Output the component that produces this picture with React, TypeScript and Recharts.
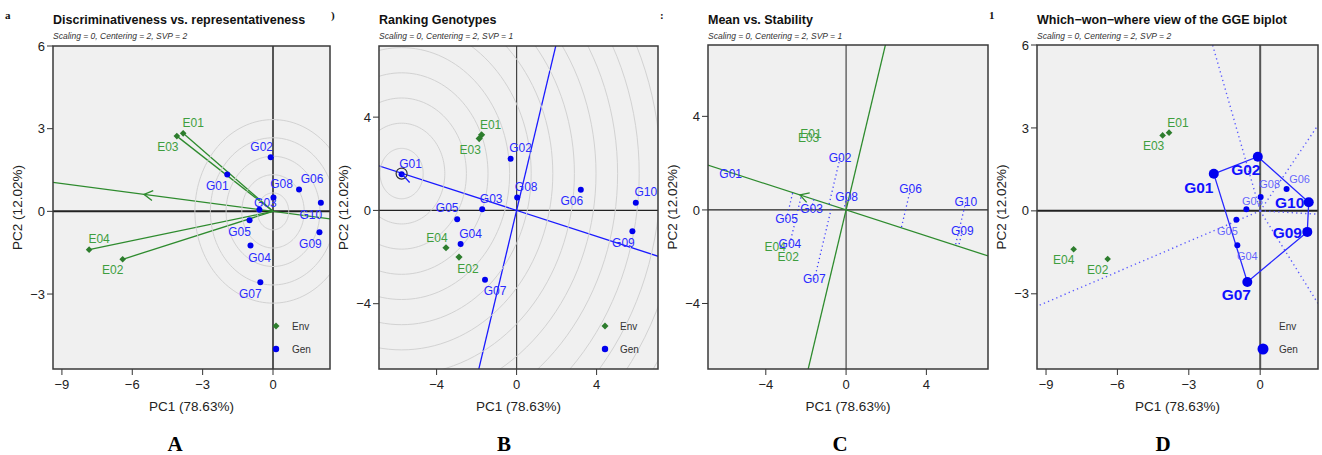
import React from 'react';
import {
  ScatterChart,
  Scatter,
  XAxis,
  YAxis,
  CartesianGrid,
  ReferenceLine,
  Label
} from 'recharts';

// ---- data ----
const genotypes = ['G01', 'G02', 'G03', 'G04', 'G05', 'G06', 'G07', 'G08', 'G09', 'G10'];
const environments = ['E01', 'E02', 'E03', 'E04'];

// SVP = 2 (panels A and D)
const genPc1Svp2 = [-1.95, -0.10, -0.58, -0.96, -1.00, 1.11, -0.54, 0.02, 1.98, 2.04];
const genPc2Svp2 = [1.34, 1.96, 0.06, -1.24, -0.32, 0.79, -2.57, 0.50, -0.76, 0.31];
const envPc1Svp2 = [-3.83, -6.41, -4.10, -7.84];
const envPc2Svp2 = [2.83, -1.74, 2.73, -1.39];

// SVP = 1 (panels B and C)
const genPc1Svp1 = [-5.75, -0.30, -1.72, -2.80, -2.97, 3.21, -1.58, 0.03, 5.79, 5.96];
const genPc2Svp1 = [1.55, 2.22, 0.05, -1.44, -0.38, 0.89, -2.97, 0.55, -0.89, 0.33];
const envPc1Svp1 = [-1.75, -2.88, -1.87, -3.53];
const envPc2Svp1 = [3.24, -2.00, 3.08, -1.60];

// average-environment axes
const aeaSlopeSvp2 = -0.112;
const aeaSlopeSvp1 = -0.278;
const ordinateSlopeSvp1 = 3.6;
const arrowPc1A = -5.5;
const arrowPc1C = -2.3;
const idealPc1 = -5.75;
const idealPc2 = 1.58;

// concentric circles
const ringRadiiA = [0.67, 1.33, 2.0, 2.67, 3.33];
const ringRadiiB = [1.08, 2.16, 3.24, 4.32, 5.4, 6.48, 7.56, 8.64, 9.72, 10.8, 11.88, 12.96, 14.04, 15.12];

// which-won-where polygon and sector rays
const hullOrder = ['G01', 'G02', 'G10', 'G09', 'G07', 'G01'];
const rayEndPc1 = [-2.0, 2.43, 2.43, 2.43, -9.38];
const rayEndPc2 = [6.0, 3.1, -0.12, -3.35, -3.45];

const ticksWide = [-9, -6, -3, 0];
const ticksWideY = [-3, 0, 3, 6];
const ticksNarrow = [-4, 0, 4];

// ---- styling ----
const FONT = '"Liberation Sans", Arial, Helvetica, sans-serif';
const BLUE_DOT = '#0000ee';
const BLUE_TXT = '#2a2aff';
const GREEN_DOT = '#2d7d2d';
const GREEN_TXT = '#3e9e3e';
const GREEN_LINE = '#2e8b2e';
const RING = '#d2d2d2';

type Pt = { name: string; x: number; y: number };
const zip = (names: string[], xs: number[], ys: number[]): Pt[] =>
  names.map((n, i) => ({ name: n, x: xs[i], y: ys[i] }));

const gen2 = zip(genotypes, genPc1Svp2, genPc2Svp2);
const env2 = zip(environments, envPc1Svp2, envPc2Svp2);
const gen1 = zip(genotypes, genPc1Svp1, genPc2Svp1);
const env1 = zip(environments, envPc1Svp1, envPc2Svp1);

const ringPoints = (cx: number, cy: number, r: number) =>
  Array.from({ length: 145 }, (_, i) => {
    const t = (i / 144) * 2 * Math.PI;
    return { x: cx + r * Math.cos(t), y: cy + r * Math.sin(t) };
  });

const lineThrough = (slope: number, reach: number) => [
  { x: -reach, y: -reach * slope },
  { x: reach, y: reach * slope }
];

// foot of a genotype on the AEA abscissa (panel C)
const projectOnAea = (p: Pt, slope: number) => {
  const t = (p.x + slope * p.y) / (1 + slope * slope);
  return { x: t, y: t * slope };
};

const labelOffsetA: Record<string, [number, number]> = {
  G01: [-10, 12], G02: [-9, -10], G03: [6, -7], G04: [9, 12], G05: [-10, 12],
  G06: [13, -11], G07: [-10, 12], G08: [8, -14], G09: [-9, 12], G10: [-10, 12],
  E01: [10, -10], E02: [-10, 11], E03: [-9, 11], E04: [10, -11]
};
const labelOffsetB: Record<string, [number, number]> = {
  G01: [9, -10], G02: [10, -11], G03: [9, -10], G04: [10, -10], G05: [-10, -11],
  G06: [-9, 11], G07: [10, 11], G08: [9, -11], G09: [-9, 12], G10: [10, -11],
  E01: [9, -10], E02: [9, 12], E03: [-9, 11], E04: [-9, -10]
};
const labelOffsetD: Record<string, [number, number]> = {
  G01: [-15, 14], G02: [-12, 13], G03: [6, -8], G04: [10, 11], G05: [-9, 11],
  G06: [13, -10], G07: [-11, 13], G08: [9, -13], G09: [-20, 1], G10: [-19, 0],
  E01: [9, -10], E02: [-10, 11], E03: [-9, 11], E04: [-10, 11]
};

interface ShapeCfg {
  marker: 'circle' | 'diamond' | 'none';
  r: number;
  fill: string;
  textFill: string;
  fontSize: number;
  fontWeight?: number;
  offsets?: Record<string, [number, number]>;
  opacity?: number;
}

const pointShape = (cfg: ShapeCfg) => (props: any) => {
  const { cx, cy, payload } = props;
  if (cx == null || cy == null) return <g />;
  const [dx, dy] = cfg.offsets?.[payload.name] ?? [0, 0];
  const r = cfg.r;
  return (
    <g>
      {cfg.marker === 'circle' && <circle cx={cx} cy={cy} r={r} fill={cfg.fill} />}
      {cfg.marker === 'diamond' && (
        <path d={`M${cx},${cy - r}L${cx + r},${cy}L${cx},${cy + r}L${cx - r},${cy}Z`} fill={cfg.fill} />
      )}
      <text
        x={cx + dx}
        y={cy + dy}
        textAnchor="middle"
        dominantBaseline="central"
        fontFamily={FONT}
        fontSize={cfg.fontSize}
        fontWeight={cfg.fontWeight ?? 400}
        fill={cfg.textFill}
        fillOpacity={cfg.opacity ?? 1}
      >
        {payload.name}
      </text>
    </g>
  );
};

const noDot = () => <g />;

const chevron = (angleDeg: number, len: number, color: string) => (props: any) => {
  const { cx, cy } = props;
  if (cx == null) return <g />;
  const a1 = ((angleDeg + 30) * Math.PI) / 180;
  const a2 = ((angleDeg - 30) * Math.PI) / 180;
  return (
    <path
      d={`M${cx + len * Math.cos(a1)},${cy + len * Math.sin(a1)}L${cx},${cy}L${cx + len * Math.cos(a2)},${cy + len * Math.sin(a2)}`}
      stroke={color}
      strokeWidth={1.3}
      fill="none"
    />
  );
};

const idealMark = (props: any) => {
  const { cx, cy } = props;
  if (cx == null) return <g />;
  const a = ((17.9 + 30) * Math.PI) / 180;
  return (
    <g>
      <circle cx={cx} cy={cy} r={5.5} fill="none" stroke="#333" strokeWidth={1.2} />
      <path d={`M${cx},${cy}L${cx + 12 * Math.cos(a)},${cy + 12 * Math.sin(a)}`} stroke="#1a1aff" strokeWidth={1.3} />
    </g>
  );
};

const fmtTick = (v: number) => (v < 0 ? `\u2212${Math.abs(v)}` : `${v}`);

interface Box { left: number; top: number; right: number; bottom: number }

const AXW = 55;
const CH = 420;

const Panel: React.FC<{
  box: Box;
  xDomain: [number, number];
  yDomain: [number, number];
  xTicks: number[];
  yTicks: number[];
  heavyZero: boolean;
  children?: React.ReactNode;
}> = ({ box, xDomain, yDomain, xTicks, yTicks, heavyZero, children }) => {
  const width = box.right - box.left + AXW + 6;
  const tickStyle = { fontSize: 13, fill: '#222', fontFamily: FONT };
  return (
    <div style={{ position: 'absolute', left: box.left - AXW, top: 0, width, height: CH }}>
      <ScatterChart width={width} height={CH} margin={{ top: box.top, right: 6, bottom: 0, left: 0 }}>
        <CartesianGrid fill="#f0f0f0" horizontal={false} vertical={false} />
        <XAxis
          type="number"
          dataKey="x"
          domain={xDomain}
          ticks={xTicks}
          allowDataOverflow
          axisLine={false}
          tickLine={{ stroke: '#333' }}
          tickSize={6}
          tickMargin={5}
          height={CH - box.bottom}
          tick={tickStyle}
          tickFormatter={fmtTick}
        >
          <Label value="PC1 (78.63%)" position="insideBottom" offset={9} fontSize={13.5} fill="#222" fontFamily={FONT} />
        </XAxis>
        <YAxis
          type="number"
          dataKey="y"
          domain={yDomain}
          ticks={yTicks}
          allowDataOverflow
          axisLine={false}
          tickLine={{ stroke: '#333' }}
          tickSize={6}
          tickMargin={2}
          width={AXW}
          tick={tickStyle}
          tickFormatter={fmtTick}
        >
          <Label
            value="PC2 (12.02%)"
            angle={-90}
            position="insideLeft"
            offset={19}
            fontSize={13.5}
            fill="#222"
            fontFamily={FONT}
            style={{ textAnchor: 'middle' }}
          />
        </YAxis>
        <ReferenceLine x={0} stroke={heavyZero ? '#555' : '#444'} strokeWidth={heavyZero ? 2 : 1.2} />
        <ReferenceLine y={0} stroke="#222" strokeWidth={heavyZero ? 2 : 1.2} />
        {children}
      </ScatterChart>
    </div>
  );
};

const boxA: Box = { left: 53, top: 46, right: 330, bottom: 369 };
const boxB: Box = { left: 379, top: 46, right: 658, bottom: 369 };
const boxC: Box = { left: 708, top: 45, right: 988, bottom: 369 };
const boxD: Box = { left: 1037, top: 45, right: 1318, bottom: 369 };

const domXWide: [number, number] = [-9.38, 2.43];
const domYWide: [number, number] = [-5.72, 6.0];
const domXNarrow: [number, number] = [-6.88, 7.07];
const domYNarrow: [number, number] = [-6.8, 7.05];

const panelText = [
  { box: boxA, title: 'Discriminativeness vs. representativeness', svp: 2, letter: 'A', lx: 175, frag: 'a' },
  { box: boxB, title: 'Ranking Genotypes', svp: 1, letter: 'B', lx: 504, frag: ')' },
  { box: boxC, title: 'Mean vs. Stability', svp: 1, letter: 'C', lx: 840, frag: ':' },
  { box: boxD, title: 'Which\u2212won\u2212where view of the GGE biplot', svp: 2, letter: 'D', lx: 1163, frag: '1' }
];

const hullPts = hullOrder.map((n) => gen2.find((g) => g.name === n)!);
const vertexGen = gen2.filter((g) => hullOrder.includes(g.name));
const innerGen = gen2.filter((g) => !hullOrder.includes(g.name));

const App: React.FC = () => {
  return (
    <div style={{ position: 'absolute', left: 0, top: 0, width: 1322, height: 455, background: '#fff', fontFamily: FONT }}>
      {/* A: discriminativeness vs representativeness */}
      <Panel box={boxA} xDomain={domXWide} yDomain={domYWide} xTicks={ticksWide} yTicks={ticksWideY} heavyZero>
        {ringRadiiA.map((r, i) => (
          <Scatter key={`ra${i}`} data={ringPoints(0, 0, r)} line={{ stroke: RING, strokeWidth: 1 }} lineType="joint" shape={noDot} isAnimationActive={false} />
        ))}
        <ReferenceLine segment={lineThrough(aeaSlopeSvp2, 20)} stroke={GREEN_LINE} strokeWidth={1.3} ifOverflow="hidden" />
        {env2.map((e) => (
          <ReferenceLine key={`va${e.name}`} segment={[{ x: 0, y: 0 }, { x: e.x, y: e.y }]} stroke={GREEN_LINE} strokeWidth={1.3} ifOverflow="hidden" />
        ))}
        <Scatter data={[{ x: arrowPc1A, y: arrowPc1A * aeaSlopeSvp2 }]} shape={chevron(7.5, 10, GREEN_LINE)} isAnimationActive={false} />
        <Scatter data={env2} shape={pointShape({ marker: 'diamond', r: 3.3, fill: GREEN_DOT, textFill: GREEN_TXT, fontSize: 12, offsets: labelOffsetA })} isAnimationActive={false} />
        <Scatter data={gen2} shape={pointShape({ marker: 'circle', r: 3, fill: BLUE_DOT, textFill: BLUE_TXT, fontSize: 12, offsets: labelOffsetA })} isAnimationActive={false} />
      </Panel>

      {/* B: ranking genotypes */}
      <Panel box={boxB} xDomain={domXNarrow} yDomain={domYNarrow} xTicks={ticksNarrow} yTicks={ticksNarrow} heavyZero={false}>
        {ringRadiiB.map((r, i) => (
          <Scatter key={`rb${i}`} data={ringPoints(idealPc1, idealPc2, r)} line={{ stroke: RING, strokeWidth: 1 }} lineType="joint" shape={noDot} isAnimationActive={false} />
        ))}
        <ReferenceLine segment={lineThrough(aeaSlopeSvp1, 20)} stroke="#1a1aff" strokeWidth={1.3} ifOverflow="hidden" />
        <ReferenceLine segment={lineThrough(ordinateSlopeSvp1, 4)} stroke="#1a1aff" strokeWidth={1.3} ifOverflow="hidden" />
        <Scatter data={env1} shape={pointShape({ marker: 'diamond', r: 3.6, fill: GREEN_DOT, textFill: GREEN_TXT, fontSize: 12, offsets: labelOffsetB })} isAnimationActive={false} />
        <Scatter data={gen1} shape={pointShape({ marker: 'circle', r: 3, fill: BLUE_DOT, textFill: BLUE_TXT, fontSize: 12, offsets: labelOffsetB })} isAnimationActive={false} />
        <Scatter data={[{ x: idealPc1, y: idealPc2 }]} shape={idealMark} isAnimationActive={false} />
      </Panel>

      {/* C: mean vs stability */}
      <Panel box={boxC} xDomain={domXNarrow} yDomain={domYNarrow} xTicks={ticksNarrow} yTicks={ticksNarrow} heavyZero={false}>
        <ReferenceLine segment={lineThrough(aeaSlopeSvp1, 20)} stroke={GREEN_LINE} strokeWidth={1.3} ifOverflow="hidden" />
        <ReferenceLine segment={lineThrough(ordinateSlopeSvp1, 4)} stroke={GREEN_LINE} strokeWidth={1.3} ifOverflow="hidden" />
        {gen1.map((g) => (
          <ReferenceLine key={`pc${g.name}`} segment={[{ x: g.x, y: g.y }, projectOnAea(g, aeaSlopeSvp1)]} stroke="#3a3aff" strokeWidth={1.3} strokeDasharray="1.2 3" ifOverflow="hidden" />
        ))}
        <Scatter data={[{ x: arrowPc1C, y: arrowPc1C * aeaSlopeSvp1 }]} shape={chevron(17.9, 10, GREEN_LINE)} isAnimationActive={false} />
        <Scatter data={env1} shape={pointShape({ marker: 'none', r: 0, fill: 'none', textFill: GREEN_TXT, fontSize: 12 })} isAnimationActive={false} />
        <Scatter data={gen1} shape={pointShape({ marker: 'none', r: 0, fill: 'none', textFill: BLUE_TXT, fontSize: 12 })} isAnimationActive={false} />
      </Panel>

      {/* D: which-won-where */}
      <Panel box={boxD} xDomain={domXWide} yDomain={domYWide} xTicks={ticksWide} yTicks={ticksWideY} heavyZero>
        {rayEndPc1.map((x, i) => (
          <ReferenceLine key={`ray${i}`} segment={[{ x: 0, y: 0 }, { x, y: rayEndPc2[i] }]} stroke="#5a5aff" strokeWidth={1.4} strokeDasharray="1.3 3.2" ifOverflow="hidden" />
        ))}
        <Scatter data={hullPts} line={{ stroke: '#2626ff', strokeWidth: 1.3 }} lineType="joint" shape={noDot} isAnimationActive={false} />
        <Scatter data={env2} shape={pointShape({ marker: 'diamond', r: 3.3, fill: GREEN_DOT, textFill: GREEN_TXT, fontSize: 12, offsets: labelOffsetD })} isAnimationActive={false} />
        <Scatter data={innerGen} shape={pointShape({ marker: 'circle', r: 3, fill: BLUE_DOT, textFill: '#4a4aff', fontSize: 11, offsets: labelOffsetD, opacity: 0.85 })} isAnimationActive={false} />
        <Scatter data={vertexGen} shape={pointShape({ marker: 'circle', r: 5, fill: BLUE_DOT, textFill: '#1010ff', fontSize: 15.5, fontWeight: 700, offsets: labelOffsetD })} isAnimationActive={false} />
      </Panel>

      {/* frames, titles, legends and panel letters */}
      <svg width={1322} height={455} style={{ position: 'absolute', left: 0, top: 0, pointerEvents: 'none' }}>
        {panelText.map((p) => (
          <g key={p.letter}>
            <rect
              x={p.box.left}
              y={p.box.top}
              width={p.box.right - p.box.left}
              height={p.box.bottom - p.box.top}
              fill="none"
              stroke="#3a3a3a"
              strokeWidth={1.5}
            />
            <text x={p.box.left} y={24} fontFamily={FONT} fontSize={12.5} fontWeight={700} fill="#111">
              {p.title}
            </text>
            <text x={p.box.left} y={38.5} fontFamily={FONT} fontSize={8.5} fontStyle="italic" fill="#333">
              {`Scaling = 0, Centering = 2, SVP = ${p.svp}`}
            </text>
            <text x={p.lx} y={451} textAnchor="middle" fontFamily='"Liberation Serif", "Times New Roman", serif' fontSize={21} fontWeight={700} fill="#000">
              {p.letter}
            </text>
            <text x={p.box.left - 48} y={19} fontFamily='"Liberation Serif", serif' fontSize={11} fontWeight={700} fill="#111">
              {p.frag}
            </text>
          </g>
        ))}

        {/* legend A */}
        <path d="M276,322.5L279.5,326L276,329.5L272.5,326Z" fill={GREEN_DOT} />
        <circle cx={276} cy={349} r={3.2} fill={BLUE_DOT} />
        <text x={292} y={330} fontFamily={FONT} fontSize={10} fill="#333">Env</text>
        <text x={292} y={353} fontFamily={FONT} fontSize={10} fill="#333">Gen</text>

        {/* legend B */}
        <path d="M605,322.5L608.5,326L605,329.5L601.5,326Z" fill={GREEN_DOT} />
        <circle cx={605} cy={349} r={3.2} fill={BLUE_DOT} />
        <text x={620} y={330} fontFamily={FONT} fontSize={10} fill="#333">Env</text>
        <text x={620} y={353} fontFamily={FONT} fontSize={10} fill="#333">Gen</text>

        {/* legend D */}
        <circle cx={1263} cy={349} r={5.5} fill={BLUE_DOT} />
        <text x={1279} y={330} fontFamily={FONT} fontSize={10} fill="#333">Env</text>
        <text x={1279} y={353} fontFamily={FONT} fontSize={10} fill="#333">Gen</text>
      </svg>
    </div>
  );
};

export default App;
